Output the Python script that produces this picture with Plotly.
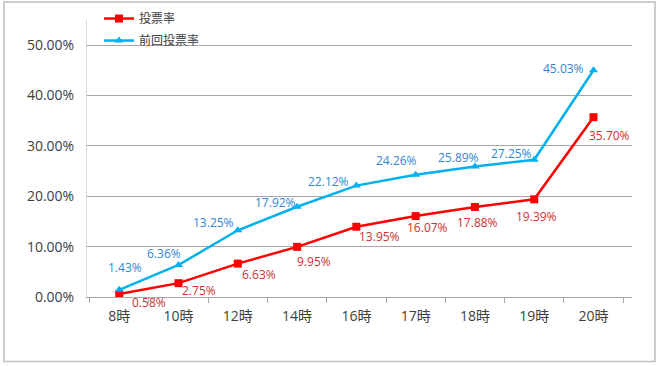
import plotly.graph_objects as go

categories = ["8時", "10時", "12時", "14時", "16時", "17時", "18時", "19時", "20時"]
turnout = [0.0058, 0.0275, 0.0663, 0.0995, 0.1395, 0.1607, 0.1788, 0.1939, 0.3570]
prev_turnout = [0.0143, 0.0636, 0.1325, 0.1792, 0.2212, 0.2426, 0.2589, 0.2725, 0.4503]
y_ticks = [0, 0.1, 0.2, 0.3, 0.4, 0.5]

# label offsets (style only): (dx, dy) in px, dy positive = down
red_off = [(30, 8), (20, 7), (21, 11), (17, 15), (23, 10), (12, 11), (3, 16), (2, 17), (16, 18)]
blue_off = [(6, -22), (-15, -11), (-24, -8), (-22, -4), (-28, -4), (-19, -14), (-16, -9), (-23, -6), (-30, -2)]

FONT = "Open Sans, Noto Sans CJK JP, sans-serif"
RED = "#FF0000"
BLUE = "#00B0F0"
RED_TXT = "#D03030"
BLUE_TXT = "#2E86CF"

fig = go.Figure()
fig.add_trace(go.Scatter(
    x=categories, y=turnout, name="投票率", mode="lines+markers",
    line=dict(color=RED, width=2.5),
    marker=dict(symbol="square", size=8, color=RED),
    legendgroup="a",
))
fig.add_trace(go.Scatter(
    x=categories, y=prev_turnout, name="前回投票率", mode="lines+markers",
    line=dict(color=BLUE, width=2.5),
    marker=dict(symbol="triangle-up", size=8, color=BLUE),
    legendgroup="b",
))

annotations = []
for c, v, (dx, dy) in zip(categories, turnout, red_off):
    annotations.append(dict(x=c, y=v, text=f"{v*100:.2f}%", showarrow=False,
                            xshift=dx, yshift=-dy,
                            font=dict(family=FONT, size=12, color=RED_TXT)))
for c, v, (dx, dy) in zip(categories, prev_turnout, blue_off):
    annotations.append(dict(x=c, y=v, text=f"{v*100:.2f}%", showarrow=False,
                            xshift=dx, yshift=-dy,
                            font=dict(family=FONT, size=12, color=BLUE_TXT)))

L, R, T, B = 87, 28, 20, 68.5
W, H = 660, 366
pw, ph = W - L - R, H - T - B

fig.update_layout(
    width=W, height=H,
    margin=dict(l=L, r=R, t=T, b=B, autoexpand=False),
    paper_bgcolor="white", plot_bgcolor="white",
    font=dict(family=FONT, color="#404040"),
    annotations=annotations,
    legend=dict(x=(99 - L) / pw, y=(H - B - 4) / ph, xanchor="left", yanchor="top",
                bgcolor="rgba(0,0,0,0)", font=dict(size=12, color="#404040"),
                tracegroupgap=3, itemwidth=30),
    shapes=[dict(type="rect", xref="paper", yref="paper",
                 x0=(4 - L) / pw, x1=(655 - L) / pw,
                 y0=(H - B - 362) / ph, y1=(H - B - 2) / ph,
                 line=dict(color="#BFBFBF", width=1.5), fillcolor="rgba(0,0,0,0)",
                 layer="below")],
)
fig.update_xaxes(
    type="category", tickson="boundaries", ticks="outside", ticklen=5,
    tickcolor="#A6A6A6", showline=True, linecolor="#A6A6A6", showgrid=False,
    tickfont=dict(size=14, color="#404040"), ticklabelstandoff=6,
)
fig.update_yaxes(
    range=[0, 0.55], tickvals=y_ticks, tickformat=".2%",
    showgrid=True, gridcolor="#A6A6A6", gridwidth=1,
    showline=True, linecolor="#D9D9D9", zeroline=False,
    tickfont=dict(size=14, color="#404040"), ticklabelstandoff=9,
)

fig.write_html("out.html", config={"displayModeBar": False},
               post_script="document.body.style.margin='0';")
